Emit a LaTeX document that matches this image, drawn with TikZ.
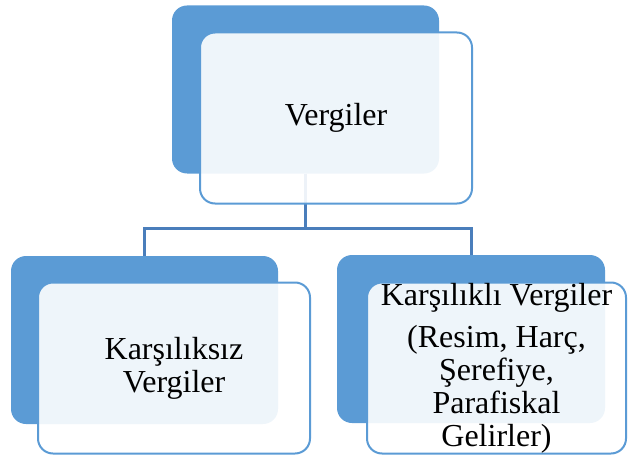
\documentclass[tikz,border=0pt]{standalone}
\usepackage{fontspec}
\setmainfont{Liberation Serif}
\usepackage{tikz}
\usetikzlibrary{positioning}
\definecolor{boxblue}{HTML}{5B9BD5}
\definecolor{linkblue}{HTML}{4A7EBB}
\tikzset{
        back/.style={fill=boxblue, rounded corners=15pt, inner sep=0pt,
                     minimum width=267pt, minimum height=168pt},
        front/.style={draw=boxblue, line width=2pt, fill=white,
                      fill opacity=0.9, text opacity=1, rounded corners=15pt,
                      inner sep=0pt, align=center, minimum width=272pt,
                      minimum height=171pt,
                      font=\fontsize{32}{33}\selectfont},
        link/.style={draw=linkblue, line width=3pt},
 }

\begin{document}
\begin{tikzpicture}[x=1pt, y=-1pt]
    \useasboundingbox (0,0) rectangle (628,457);
    \node[back] (topb) at (305.5,89.5) {};
    \node[back] (leftb) at (144.5,340) {};
    \node[back, minimum width=268pt] (rightb) at (471,339) {};

    \draw[link] (topb.south) -- ++(0,55) -| (leftb.north);
    \draw[link] (topb.south) -- ++(0,55) -| (rightb.north);

    \node[front] (topf) at ([xshift=30.5pt, yshift=-28.5pt]topb.center) {Vergiler};
    \node[front] (leftf) at ([xshift=29.5pt, yshift=-28pt]leftb.center) {Karşılıksız\\Vergiler};
    \node[front, minimum width=259pt] (rightf) at ([xshift=25.5pt, yshift=-29pt]rightb.center)
        {Karşılıklı Vergiler\\[9pt](Resim, Harç,\\Şerefiye,\\Parafiskal\\Gelirler)};
\end{tikzpicture}
\end{document}
